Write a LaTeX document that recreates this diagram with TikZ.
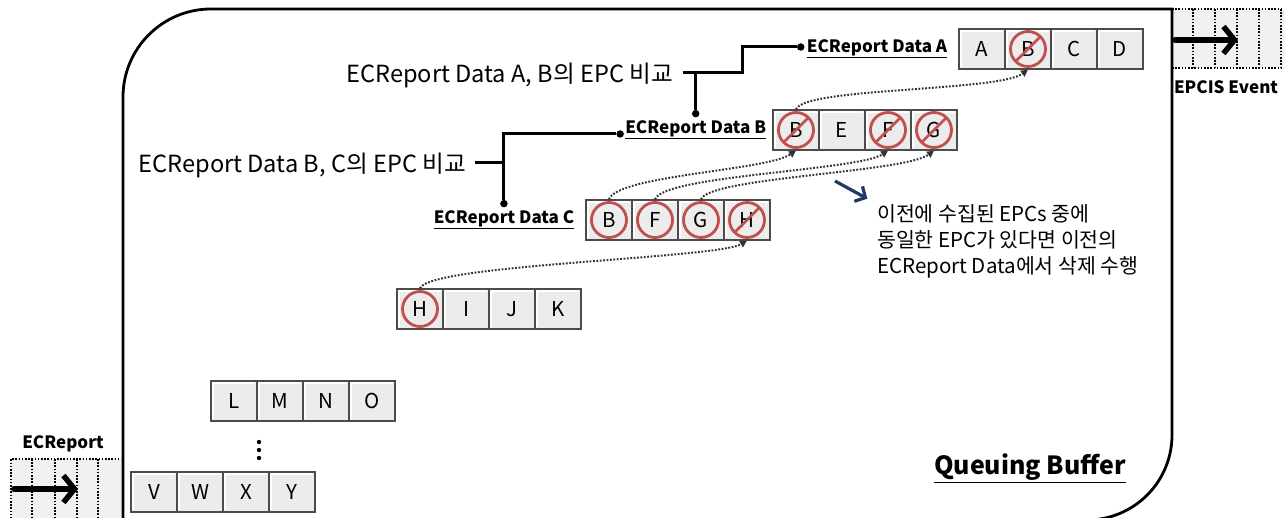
\documentclass[tikz,border=0pt]{standalone}
\usepackage{fontspec}
\setmainfont{Noto Sans CJK KR}
\usetikzlibrary{arrows.meta,positioning}

\definecolor{redmark}{RGB}{192,80,77}
\definecolor{navyink}{RGB}{31,56,100}
\definecolor{cellfill}{RGB}{236,236,236}
\definecolor{stripfill}{RGB}{241,241,241}

\begin{document}
\begin{tikzpicture}[x=1pt, y=1pt, node distance=0pt,
    cell/.style={draw=black!70, fill=cellfill, line width=1.3pt,
      minimum width=46pt, minimum height=40pt, inner sep=0pt,
      font=\fontsize{20.5}{20.5}\selectfont,
      path picture={\draw[white, line width=1.5pt]
        ([shift={(2pt,2pt)}]path picture bounding box.south west) |-
        ([shift={(-2pt,-2pt)}]path picture bounding box.north east);}},
    hit/.style={circle, draw=redmark, line width=2.8pt, minimum size=35pt, inner sep=0pt},
    cut/.style={hit, path picture={\draw[redmark, line width=2.8pt]
        (path picture bounding box.north east) -- (path picture bounding box.south west);}},
    tag/.style={inner sep=0pt, font=\bfseries\fontsize{17}{17}\selectfont},
    say/.style={inner sep=0pt, font=\fontsize{23.6}{23.6}\selectfont},
    note/.style={inner sep=0pt, align=left, font=\fontsize{20.5}{26}\selectfont},
    dot/.style={circle, fill, inner sep=0pt, minimum size=7.5pt},
    wire/.style={line width=3pt},
    trace/.style={black!80, line width=2pt, dash pattern=on 1.8pt off 1.6pt,
      -{Triangle[length=7pt, width=7pt]}},
    pointer/.style={navyink, line width=3.2pt, -{Straight Barb[length=8pt, width=17pt]}},
    feed/.style={line width=5.5pt, line cap=round, -{Straight Barb[length=11pt, width=27pt]}},
    grid/.style={line width=1.6pt, dash pattern=on 1.6pt off 1.6pt},
    frame/.style={line width=2.8pt}]

  \useasboundingbox (0,0) rectangle (1284,-518);

  % incoming and outgoing strips
  \fill[stripfill] (11,-459) rectangle (121,-525);
  \draw[grid] (11,-525) -- (11,-459) -- (121,-459);
  \foreach \x in {32,55,77,98}
    \draw[grid] (\x,-459) -- (\x,-525);
  \fill[stripfill] (1172,-9) rectangle (1290,-68);
  \draw[grid] (1172,-9) -- (1290,-9) (1172,-68) -- (1290,-68);
  \foreach \x in {1193,1215,1237,1259,1281}
    \draw[grid] (\x,-9) -- (\x,-68);

  % queuing buffer outline
  \draw[frame] (123,-540) -- (123,-97) arc[start angle=180, end angle=90, radius=88]
    -- (1172,-9) -- (1172,-435) arc[start angle=0, end angle=-90, radius=85] -- (900,-520);

  \coordinate (intail) at (14,-489);
  \coordinate (inhead) at (78,-489);
  \draw[feed] (intail) -- (inhead);
  \node[tag] (inlab) at (63,-444) {ECReport};

  \coordinate (outtail) at (1175,-40);
  \coordinate (outhead) at (1238,-40);
  \draw[feed] (outtail) -- (outhead);
  \node[tag] (outlab) at (1226,-87) {EPCIS Event};

  % EPC rows
  \foreach \r/\x/\y/\row in {a/959/29/{A,B,C,D}, b/773/110/{B,E,F,G},
      c/586/200/{B,F,G,H}, h/397/289/{H,I,J,K}, l/211/381/{L,M,N,O},
      v/131/472/{V,W,X,Y}}
    \foreach \t [count=\i] in \row
      \node[cell] (\r\i) at ({\x+46*\i-23},{-\y-20}) {\t};

  \foreach \dy in {0,8,16}
    \fill (259,-442-\dy) circle (2.2);

  % duplicated EPCs
  \node[cut] (xa2) at (a2) {};
  \node[cut] (xb1) at (b1) {};
  \node[cut] (xb3) at (b3) {};
  \node[cut] (xb4) at (b4) {};
  \node[hit] (xc1) at (c1) {};
  \node[hit] (xc2) at (c2) {};
  \node[hit] (xc3) at (c3) {};
  \node[cut] (xc4) at (c4) {};
  \node[hit] (xh1) at (h1) {};

  \draw[trace] (b1.north) .. controls +(8,22) and +(-30,-22) .. (a2.south);
  \draw[trace] (c1.north) .. controls +(8,24) and +(-30,-20) .. (b1.south);
  \draw[trace] (c2.north) .. controls +(8,24) and +(-30,-20) .. (b3.south);
  \draw[trace] (c3.north) .. controls +(8,22) and +(-30,-22) .. (b4.south);
  \draw[trace] (h1.north) .. controls +(8,24) and +(-30,-18) .. (c4.south);

  % report labels
  \node[tag, left=11pt of a1] (labA) {\underline{ECReport Data A}};
  \node[tag, left=6pt of b1] (labB) {\underline{ECReport Data B}};
  \node[tag, left=11pt of c1] (labC) {\underline{ECReport Data C}};
  \node[dot, left=2pt of labA, yshift=2pt] (dotA) {};
  \node[dot, above=3pt of labB] (dotB1) {};
  \node[dot, left=1pt of labB, yshift=-4pt] (dotB2) {};
  \node[dot, above=3pt of labC] (dotC) {};

  \node[say, anchor=east] (cmpAB) at (673,-75) {ECReport Data A, B의 EPC 비교};
  \node[say, anchor=east] (cmpBC) at (466,-165) {ECReport Data B, C의 EPC 비교};

  \coordinate (jAB) at (742,-73);
  \draw[wire] (cmpAB.east) ++(10,2) -- (jAB) |- (dotA);
  \draw[wire] (dotB1) -- (dotB1 |- jAB);
  \draw[wire] (cmpBC.east) ++(9,2) -- (dotC |- 0,-163);
  \draw[wire] (dotC) |- (dotB2);

  % note on removal
  \node[note, anchor=north west] (note) at (877,-204)
    {이전에 수집된 EPCs 중에\\동일한 EPC가 있다면 이전의\\ECReport Data에서 삭제 수행};
  \coordinate (pin) at (835,-181);
  \draw[pointer, shorten >=11pt] (pin) -- (note.north west);

  \node[font=\bfseries\fontsize{25}{25}\selectfont] (qbuf) at (1030,-468) {\underline{Queuing Buffer}};
\end{tikzpicture}
\end{document}
